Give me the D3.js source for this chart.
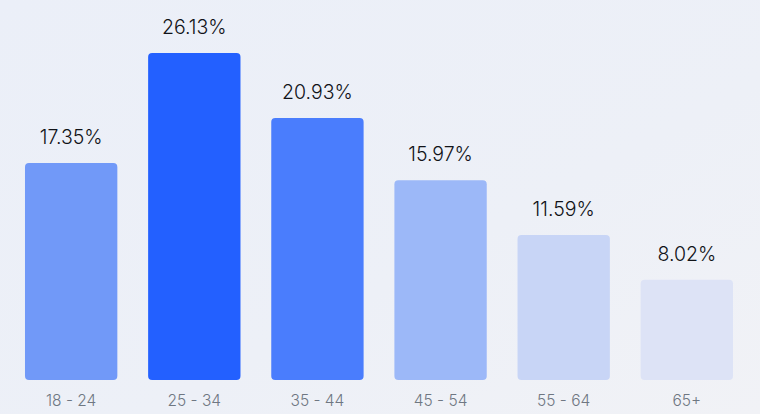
<!DOCTYPE html>
<html><head><meta charset="utf-8">
<script src="https://cdn.jsdelivr.net/npm/d3@7/dist/d3.min.js"></script>
<style>
html,body{margin:0;padding:0;width:760px;height:414px;overflow:hidden;}
svg{display:block;}
</style></head><body>
<script>
const categories = ["18 - 24","25 - 34","35 - 44","45 - 54","55 - 64","65+"];
const values = [17.35, 26.13, 20.93, 15.97, 11.59, 8.02];
const valueLabels = ["17.35%","26.13%","20.93%","15.97%","11.59%","8.02%"];
const barColors = ["#7199f8","#2360ff","#4a7dfd","#9cb8f8","#c8d5f6","#dde3f6"];

const W = 760, H = 414;
const svg = d3.select("body").append("svg").attr("width", W).attr("height", H);
const defs = svg.append("defs");
const g = defs.append("linearGradient").attr("id","bg").attr("x1","0").attr("y1","0").attr("x2","1").attr("y2","1");
g.append("stop").attr("offset","0").attr("stop-color","#ebeff8");
g.append("stop").attr("offset","0.6").attr("stop-color","#edf0f7");
g.append("stop").attr("offset","1").attr("stop-color","#f1f2f6");
svg.append("rect").attr("width",W).attr("height",H).attr("fill","url(#bg)");

const x = d3.scaleBand().domain(categories).range([9.6, 748.4]).paddingInner(0.25).paddingOuter(0.125);
const y = d3.scaleLinear().domain([0, 26.13]).range([380, 53]);

svg.selectAll("rect.bar").data(values).enter().append("rect")
  .attr("class","bar")
  .attr("x",(d,i)=>x(categories[i]))
  .attr("y",d=>y(d))
  .attr("width",x.bandwidth())
  .attr("height",d=>y(0)-y(d))
  .attr("rx",4).attr("ry",4)
  .attr("fill",(d,i)=>barColors[i]);

svg.selectAll("text.val").data(values).enter().append("text")
  .attr("class","val")
  .attr("x",(d,i)=>x(categories[i])+x.bandwidth()/2)
  .attr("y",d=>y(d)-19)
  .attr("text-anchor","middle")
  .attr("font-family","Inter, 'Noto Sans', sans-serif")
  .attr("font-size",19.5)
  .attr("font-weight",350)
  .attr("fill","#111318")
  .text((d,i)=>valueLabels[i]);

const axis = d3.axisBottom(x).tickSize(0).tickPadding(0);
const ax = svg.append("g").attr("transform","translate(0,406)").call(axis);
ax.select(".domain").remove();
ax.selectAll("text")
  .attr("dy",0)
  .attr("font-family","Inter, 'Noto Sans', sans-serif")
  .attr("font-size",15.5)
  .attr("font-weight",350)
  .attr("fill","#6f7782");
</script>
</body></html>
